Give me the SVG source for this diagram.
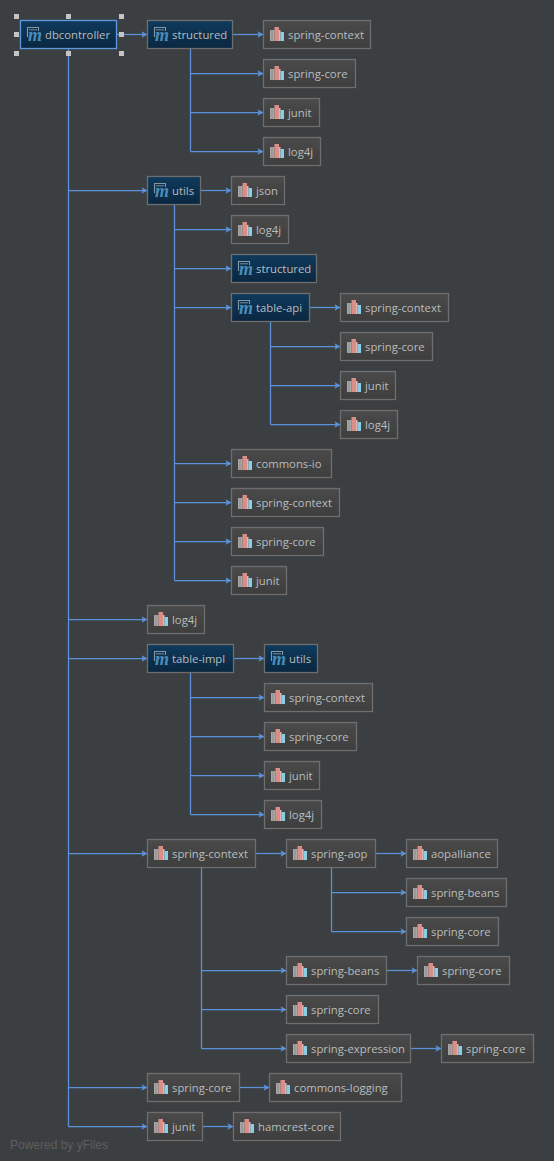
<svg xmlns="http://www.w3.org/2000/svg" width="554" height="1161" viewBox="0 0 554 1161">
<style>
text{font-family:"Open Sans","Liberation Sans",sans-serif;font-size:11.3px;fill:#b9bdbf}
.lib rect.b{fill:url(#lg);stroke:#6e6e6e;stroke-width:1.3}
.mod rect.b{fill:url(#mg);stroke:#6e6e6e;stroke-width:1.3}
.sel rect.b{stroke:#5f9ae0}
.c path{fill:none;stroke:#5a92dc;stroke-width:1.25;marker-end:url(#a)}
.t path{fill:none;stroke:#5a92dc;stroke-width:1.25}
.h rect{fill:#c4c4c4}
text.pw{font-size:12px;fill:#5c5e60;font-family:"Liberation Sans",sans-serif}
text.mt{font-family:"Liberation Serif",serif;font-style:italic;font-weight:bold;font-size:18px;fill:#4a8db8}
</style>
<defs>
<linearGradient id="mg" x1="0" y1="0" x2="0" y2="1"><stop offset="0" stop-color="#0f3a5c"/><stop offset="1" stop-color="#0a2740"/></linearGradient>
<linearGradient id="lg" x1="0" y1="0" x2="0" y2="1"><stop offset="0" stop-color="#4a4a4a"/><stop offset="1" stop-color="#3e3e3e"/></linearGradient>
<marker id="a" markerUnits="userSpaceOnUse" markerWidth="7" markerHeight="8" refX="6" refY="4" orient="auto"><path d="M0.500 0.800L6.500 4L0.500 7.200L1.800 4Z" fill="#5a92dc"/></marker>
<g id="li">
<rect x="0" y="3" width="4.500" height="11" fill="#a8a8a8"/><rect x="1.500" y="3" width="1" height="11" fill="#8a8a8a"/>
<rect x="4.500" y="0" width="4.500" height="14" fill="#d98f88"/><rect x="9" y="3" width="1.500" height="11" fill="#e6b4b4"/>
<rect x="10.500" y="5" width="3.500" height="9" fill="#86cfe4"/>
</g>
<g id="mi">
<path d="M0.500 10V0.500H11.500V4" fill="none" stroke="#8796a3" stroke-width="1.100"/><path d="M2 2.800H10" stroke="#7a8a98"/>
</g>
</defs>
<rect width="554" height="1161" fill="#3c3f41"/>
<g id="connectors">
<g class="t">
<path d="M68.500 48V1126.500"/><path d="M190.500 48V151.500"/><path d="M174.500 205V580.500"/><path d="M270.500 322V424.500"/><path d="M190.500 673V814.500"/><path d="M201.500 868V1048.500"/><path d="M331.500 868V931.500"/>
</g>
<g class="c">
<path d="M117 34.500H147"/><path d="M233 34.500H263"/><path d="M190.500 73.500H263"/><path d="M190.500 112.500H263"/><path d="M190.500 151.500H263"/>
<path d="M68.500 190.500H147"/><path d="M201 190.500H231"/><path d="M174.500 229.500H231"/><path d="M174.500 268.500H231"/><path d="M174.500 307.500H231"/><path d="M310 307.500H340"/>
<path d="M270.500 346.500H340"/><path d="M270.500 385.500H340"/><path d="M270.500 424.500H340"/>
<path d="M174.500 463.500H231"/><path d="M174.500 502.500H231"/><path d="M174.500 541.500H231"/><path d="M174.500 580.500H231"/>
<path d="M68.500 619.500H147"/><path d="M68.500 658.500H147"/><path d="M234 658.500H264"/>
<path d="M190.500 697.500H264"/><path d="M190.500 736.500H264"/><path d="M190.500 775.500H264"/><path d="M190.500 814.500H264"/>
<path d="M68.500 853.500H147"/><path d="M256 853.500H286"/><path d="M376 853.500H406"/><path d="M331.500 892.500H406"/><path d="M331.500 931.500H406"/>
<path d="M201.500 970.500H286"/><path d="M387 970.500H417"/><path d="M201.500 1009.500H286"/><path d="M201.500 1048.500H286"/><path d="M411 1048.500H441"/>
<path d="M68.500 1087.500H147"/><path d="M240 1087.500H269"/><path d="M68.500 1126.500H147"/><path d="M203 1126.500H233"/>
</g>
</g>
<g id="n1" class="mod sel"><rect class="b" x="20.500" y="20.500" width="96" height="28"/><use href="#mi" x="27" y="27"/><text class="mt" x="28" y="41">m</text><text x="45" y="39">dbcontroller</text></g>
<g id="n2" class="mod"><rect class="b" x="147.500" y="20.500" width="85" height="28"/><use href="#mi" x="154" y="27"/><text class="mt" x="155" y="41">m</text><text x="172" y="39">structured</text></g>
<g id="n3" class="lib"><rect class="b" x="263.500" y="20.500" width="107" height="28"/><use href="#li" x="270" y="27"/><text x="288" y="39">spring-context</text></g>
<g id="n4" class="lib"><rect class="b" x="263.500" y="59.500" width="92" height="28"/><use href="#li" x="270" y="66"/><text x="288" y="78">spring-core</text></g>
<g id="n5" class="lib"><rect class="b" x="263.500" y="98.500" width="56" height="28"/><use href="#li" x="270" y="105"/><text x="288" y="117">junit</text></g>
<g id="n6" class="lib"><rect class="b" x="263.500" y="137.500" width="57" height="28"/><use href="#li" x="270" y="144"/><text x="288" y="156">log4j</text></g>
<g id="n7" class="mod"><rect class="b" x="147.500" y="176.500" width="53" height="28"/><use href="#mi" x="154" y="183"/><text class="mt" x="155" y="197">m</text><text x="172" y="195">utils</text></g>
<g id="n8" class="lib"><rect class="b" x="231.500" y="176.500" width="53" height="28"/><use href="#li" x="238" y="183"/><text x="256" y="195">json</text></g>
<g id="n9" class="lib"><rect class="b" x="231.500" y="215.500" width="57" height="28"/><use href="#li" x="238" y="222"/><text x="256" y="234">log4j</text></g>
<g id="n10" class="mod"><rect class="b" x="231.500" y="254.500" width="85" height="28"/><use href="#mi" x="238" y="261"/><text class="mt" x="239" y="275">m</text><text x="256" y="273">structured</text></g>
<g id="n11" class="mod"><rect class="b" x="231.500" y="293.500" width="78" height="28"/><use href="#mi" x="238" y="300"/><text class="mt" x="239" y="314">m</text><text x="256" y="312">table-api</text></g>
<g id="n12" class="lib"><rect class="b" x="340.500" y="293.500" width="108" height="28"/><use href="#li" x="347" y="300"/><text x="365" y="312">spring-context</text></g>
<g id="n13" class="lib"><rect class="b" x="340.500" y="332.500" width="92" height="28"/><use href="#li" x="347" y="339"/><text x="365" y="351">spring-core</text></g>
<g id="n14" class="lib"><rect class="b" x="340.500" y="371.500" width="55" height="28"/><use href="#li" x="347" y="378"/><text x="365" y="390">junit</text></g>
<g id="n15" class="lib"><rect class="b" x="340.500" y="410.500" width="57" height="28"/><use href="#li" x="347" y="417"/><text x="365" y="429">log4j</text></g>
<g id="n16" class="lib"><rect class="b" x="231.500" y="449.500" width="100" height="28"/><use href="#li" x="238" y="456"/><text x="256" y="468">commons-io</text></g>
<g id="n17" class="lib"><rect class="b" x="231.500" y="488.500" width="108" height="28"/><use href="#li" x="238" y="495"/><text x="256" y="507">spring-context</text></g>
<g id="n18" class="lib"><rect class="b" x="231.500" y="527.500" width="92" height="28"/><use href="#li" x="238" y="534"/><text x="256" y="546">spring-core</text></g>
<g id="n19" class="lib"><rect class="b" x="231.500" y="566.500" width="55" height="28"/><use href="#li" x="238" y="573"/><text x="256" y="585">junit</text></g>
<g id="n20" class="lib"><rect class="b" x="147.500" y="605.500" width="57" height="28"/><use href="#li" x="154" y="612"/><text x="172" y="624">log4j</text></g>
<g id="n21" class="mod"><rect class="b" x="147.500" y="644.500" width="86" height="28"/><use href="#mi" x="154" y="651"/><text class="mt" x="155" y="665">m</text><text x="172" y="663">table-impl</text></g>
<g id="n22" class="mod"><rect class="b" x="264.500" y="644.500" width="53" height="28"/><use href="#mi" x="271" y="651"/><text class="mt" x="272" y="665">m</text><text x="289" y="663">utils</text></g>
<g id="n23" class="lib"><rect class="b" x="264.500" y="683.500" width="108" height="28"/><use href="#li" x="271" y="690"/><text x="289" y="702">spring-context</text></g>
<g id="n24" class="lib"><rect class="b" x="264.500" y="722.500" width="92" height="28"/><use href="#li" x="271" y="729"/><text x="289" y="741">spring-core</text></g>
<g id="n25" class="lib"><rect class="b" x="264.500" y="761.500" width="55" height="28"/><use href="#li" x="271" y="768"/><text x="289" y="780">junit</text></g>
<g id="n26" class="lib"><rect class="b" x="264.500" y="800.500" width="57" height="28"/><use href="#li" x="271" y="807"/><text x="289" y="819">log4j</text></g>
<g id="n27" class="lib"><rect class="b" x="147.500" y="839.500" width="108" height="28"/><use href="#li" x="154" y="846"/><text x="172" y="858">spring-context</text></g>
<g id="n28" class="lib"><rect class="b" x="286.500" y="839.500" width="89" height="28"/><use href="#li" x="293" y="846"/><text x="311" y="858">spring-aop</text></g>
<g id="n29" class="lib"><rect class="b" x="406.500" y="839.500" width="91" height="28"/><use href="#li" x="413" y="846"/><text x="431" y="858">aopalliance</text></g>
<g id="n30" class="lib"><rect class="b" x="406.500" y="878.500" width="100" height="28"/><use href="#li" x="413" y="885"/><text x="431" y="897">spring-beans</text></g>
<g id="n31" class="lib"><rect class="b" x="406.500" y="917.500" width="92" height="28"/><use href="#li" x="413" y="924"/><text x="431" y="936">spring-core</text></g>
<g id="n32" class="lib"><rect class="b" x="286.500" y="956.500" width="100" height="28"/><use href="#li" x="293" y="963"/><text x="311" y="975">spring-beans</text></g>
<g id="n33" class="lib"><rect class="b" x="417.500" y="956.500" width="92" height="28"/><use href="#li" x="424" y="963"/><text x="442" y="975">spring-core</text></g>
<g id="n34" class="lib"><rect class="b" x="286.500" y="995.500" width="92" height="28"/><use href="#li" x="293" y="1002"/><text x="311" y="1014">spring-core</text></g>
<g id="n35" class="lib"><rect class="b" x="286.500" y="1034.500" width="124" height="28"/><use href="#li" x="293" y="1041"/><text x="311" y="1053">spring-expression</text></g>
<g id="n36" class="lib"><rect class="b" x="441.500" y="1034.500" width="92" height="28"/><use href="#li" x="448" y="1041"/><text x="466" y="1053">spring-core</text></g>
<g id="n37" class="lib"><rect class="b" x="147.500" y="1073.500" width="92" height="28"/><use href="#li" x="154" y="1080"/><text x="172" y="1092">spring-core</text></g>
<g id="n38" class="lib"><rect class="b" x="269.500" y="1073.500" width="132" height="28"/><use href="#li" x="276" y="1080"/><text x="294" y="1092">commons-logging</text></g>
<g id="n39" class="lib"><rect class="b" x="147.500" y="1112.500" width="55" height="28"/><use href="#li" x="154" y="1119"/><text x="172" y="1131">junit</text></g>
<g id="n40" class="lib"><rect class="b" x="233.500" y="1112.500" width="107" height="28"/><use href="#li" x="240" y="1119"/><text x="258" y="1131">hamcrest-core</text></g>
<g class="h"><rect x="14" y="14" width="5" height="5"/><rect x="66" y="14" width="5" height="5"/><rect x="119" y="14" width="5" height="5"/><rect x="14" y="32" width="5" height="5"/><rect x="119" y="32" width="5" height="5"/><rect x="14" y="51" width="5" height="5"/><rect x="66" y="51" width="5" height="5"/><rect x="119" y="51" width="5" height="5"/></g>
<text class="pw" x="10" y="1149">Powered by yFiles</text>
</svg>
